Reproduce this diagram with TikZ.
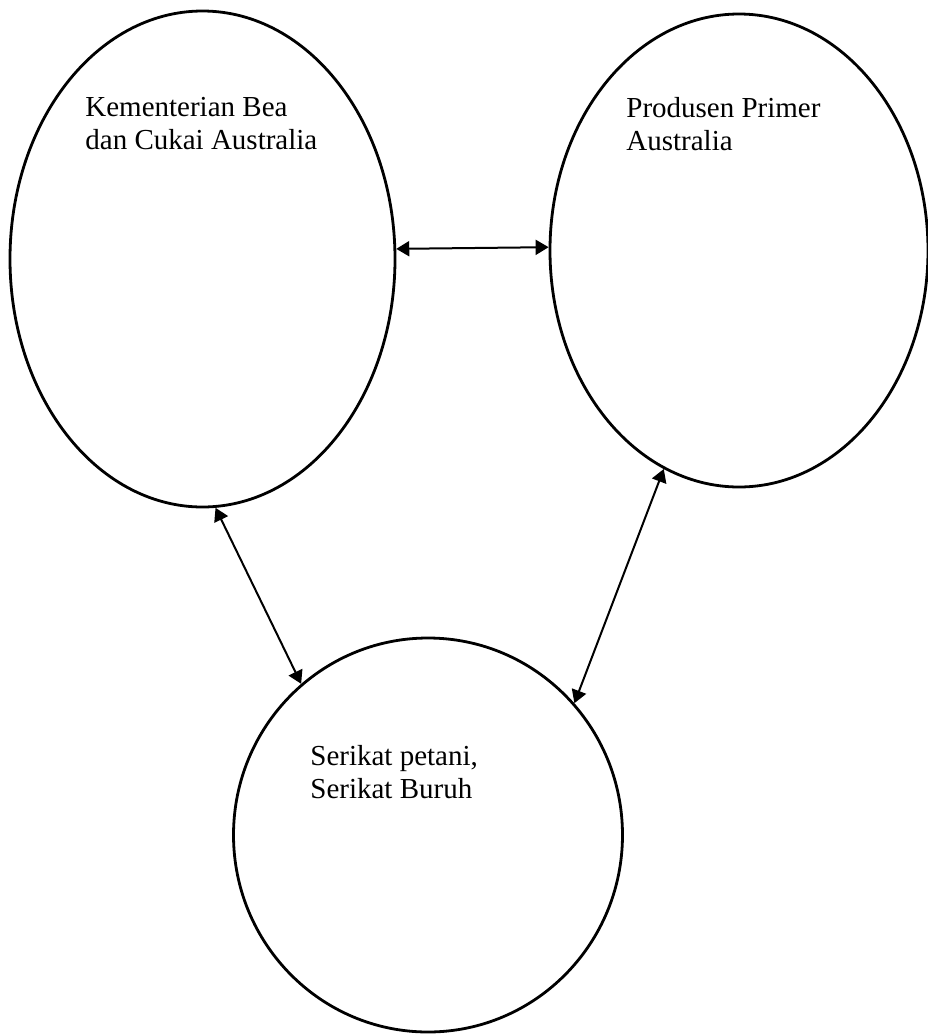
\documentclass[tikz,border=0pt]{standalone}
\usepackage{fontspec}
\setmainfont{Liberation Serif}
\usetikzlibrary{shapes.geometric,arrows.meta}
\begin{document}
\begin{tikzpicture}[x=0.5pt, y=-0.5pt,
  blob/.style={draw, ellipse, line width=1.4pt, inner sep=0pt},
  lbl/.style={anchor=north west, inner sep=0pt, align=left, font=\fontsize{14.5}{16.5}\selectfont},
  arr/.style={{Triangle[length=6.5pt,width=7.5pt]}-{Triangle[length=6.5pt,width=7.5pt]}, line width=1pt}]
\useasboundingbox (0,0) rectangle (927,1034);
% the three parties
\node[blob, minimum width=192.5pt, minimum height=248pt] (bea) at (202.5,259) {};
\node[blob, minimum width=189pt, minimum height=236.5pt] (prod) at (739,250.5) {};
\node[blob, minimum width=194.5pt, minimum height=197pt] (serikat) at (428,835) {};
% labels
\node[lbl] (beaT) at (85,97) {Kementerian Bea\\dan Cukai Australia};
\node[lbl] (prodT) at (626,97) {Produsen Primer\\Australia};
\node[lbl] (serikatT) at (310,745) {Serikat petani,\\Serikat Buruh};
% links
\draw[arr] (bea.3.6) -- (prod.179);
\draw[arr] (bea.-87.6) -- (serikat.130.6);
\draw[arr] (prod.-109.6) -- (serikat.42.7);
\end{tikzpicture}
\end{document}
